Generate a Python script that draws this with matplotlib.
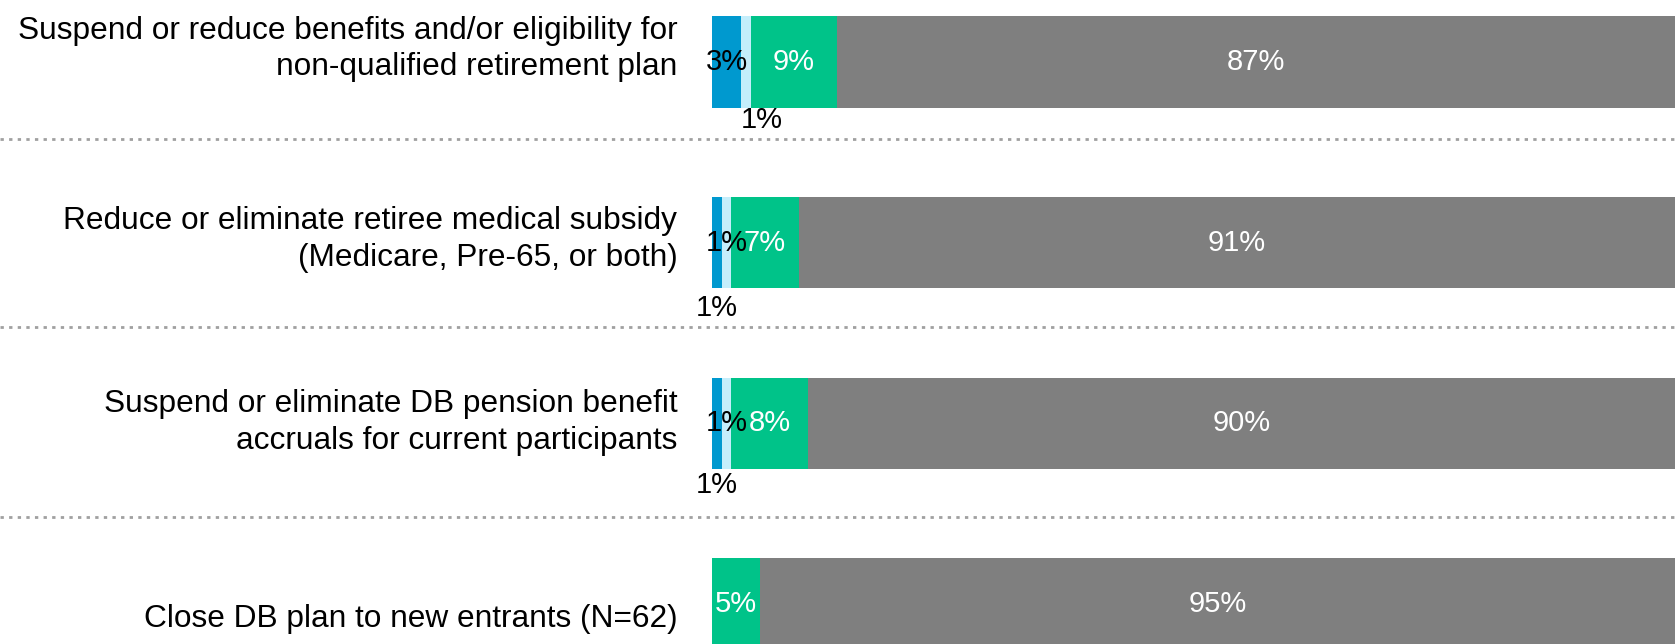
import matplotlib
matplotlib.use("Agg")
import matplotlib.pyplot as plt
import matplotlib.transforms as mtransforms
import numpy as np

plt.rcParams['font.family'] = ['Liberation Sans', 'DejaVu Sans']

categories = [
    "Suspend or reduce benefits and/or eligibility for\nnon-qualified retirement plan",
    "Reduce or eliminate retiree medical subsidy\n(Medicare, Pre-65, or both)",
    "Suspend or eliminate DB pension benefit\naccruals for current participants",
    "Close DB plan to new entrants (N=62)",
]
series_names = ["Already done", "Planned", "Considering", "Not considering"]
already = [3, 1, 1, 0]
planned = [1, 1, 1, 0]
considering = [9, 7, 8, 5]
not_considering = [87, 91, 90, 95]

colors = ["#0099CF", "#C4EEFB", "#00C389", "#7F7F7F"]
text_colors = ["black", "black", "white", "white"]
# small segments whose label sits just below the bar: (row, series) -> (dx, dy)
below_labels = {(0, 1): (1.7, 0.32), (1, 0): (0.0, 0.36), (2, 0): (0.0, 0.34)}

W, H = 1675, 644
fig = plt.figure(figsize=(W / 100, H / 100), dpi=100)
ax = fig.add_axes([712 / W, 0, 1 - 712 / W, 1])

series = [already, planned, considering, not_considering]
y = np.arange(len(categories))
left = np.zeros(len(categories))
for k, (vals, col, tcol) in enumerate(zip(series, colors, text_colors)):
    vals = np.array(vals, dtype=float)
    ax.barh(y, vals, left=left, height=0.505, color=col, edgecolor="none",
            label=series_names[k])
    for i, v in enumerate(vals):
        if v <= 0:
            continue
        cx = left[i] + v / 2
        if (i, k) in below_labels:
            dx, dy = below_labels[(i, k)]
            ax.text(cx + dx, i + dy, f"{v:.0f}%", ha="center", va="center",
                    fontsize=21, color="black")
        else:
            ax.text(cx, i, f"{v:.0f}%", ha="center", va="center",
                    fontsize=21, color=tcol)
    left = left + vals

ax.set_xlim(0, 100)
ax.set_ylim(3.221, -0.343)
ax.axis("off")

# category labels, right-aligned to the left of the bars
label_y = [-0.072, 0.98, 1.995, 3.085]
for txt, ly in zip(categories, label_y):
    ax.text(-3.6, ly, txt, ha="right", va="center", fontsize=22.8,
            linespacing=1.3, color="black")

# dotted separators across the full width
trans = mtransforms.blended_transform_factory(fig.transFigure, ax.transData)
for sy in [0.425, 1.467, 2.52]:
    ax.plot([0, 1], [sy, sy], transform=trans, color="#A0A0A0", lw=2,
            linestyle=(0, (1.2, 1.9)), clip_on=False)

fig.savefig("out.png", dpi=100)
